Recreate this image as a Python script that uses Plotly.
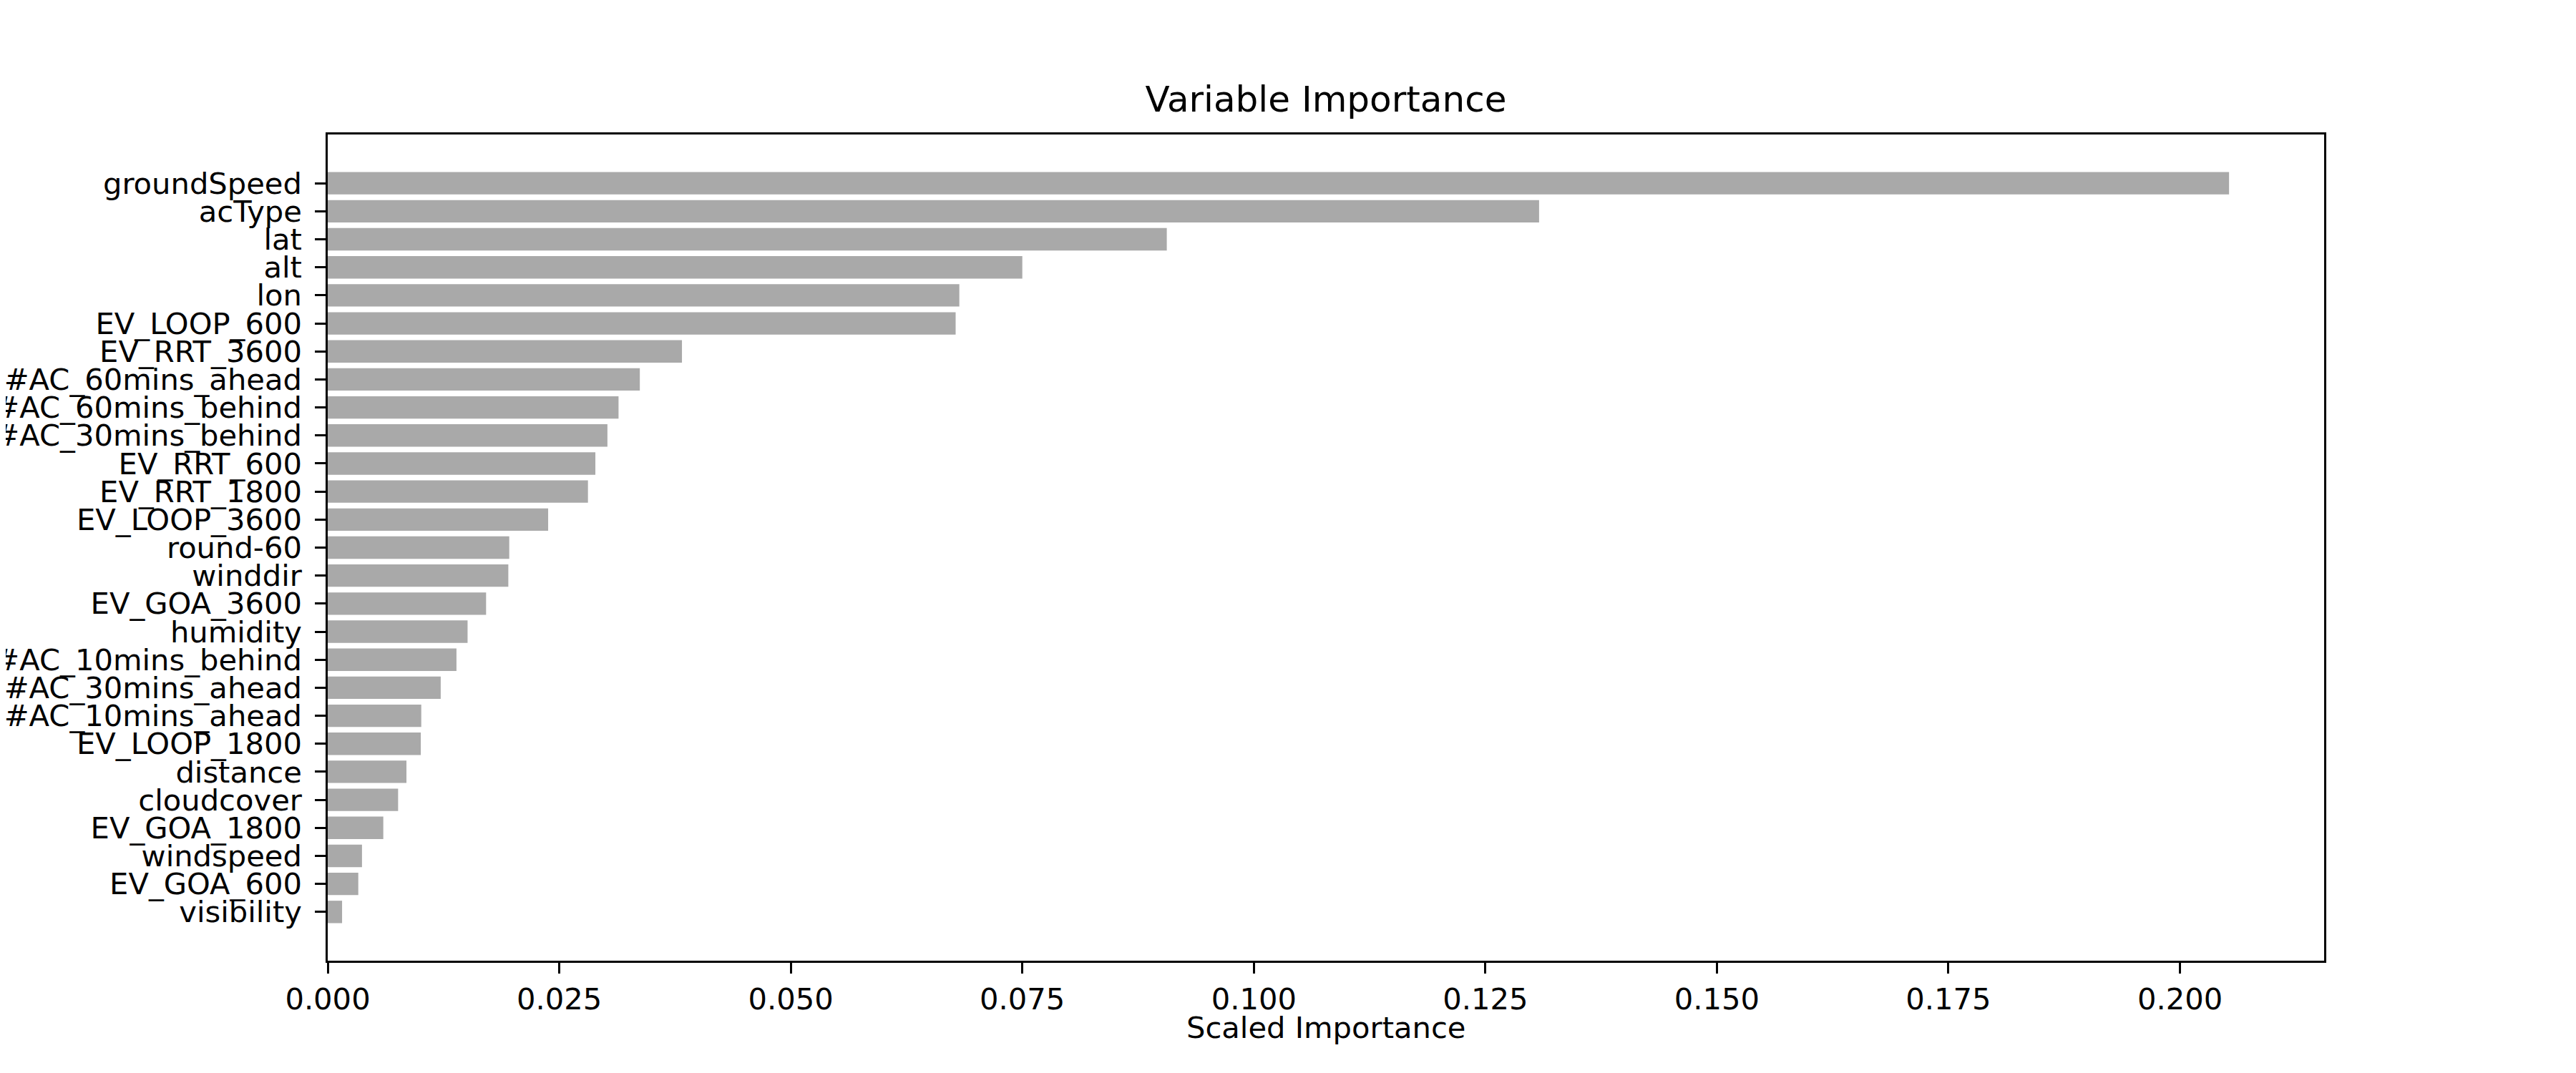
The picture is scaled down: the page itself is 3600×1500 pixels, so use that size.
import plotly.graph_objects as go

# variable importance, top to bottom as drawn
features = ["groundSpeed", "acType", "lat", "alt", "lon", "EV_LOOP_600", "EV_RRT_3600",
            "#AC_60mins_ahead", "#AC_60mins_behind", "#AC_30mins_behind", "EV_RRT_600",
            "EV_RRT_1800", "EV_LOOP_3600", "round-60", "winddir", "EV_GOA_3600", "humidity",
            "#AC_10mins_behind", "#AC_30mins_ahead", "#AC_10mins_ahead", "EV_LOOP_1800",
            "distance", "cloudcover", "EV_GOA_1800", "windspeed", "EV_GOA_600", "visibility"]
importance = [0.2053, 0.1308, 0.0906, 0.0750, 0.0682, 0.0678, 0.03825,
              0.0337, 0.0314, 0.0302, 0.0289,
              0.0281, 0.0238, 0.0196, 0.0195, 0.0171, 0.0151,
              0.0139, 0.0122, 0.0101, 0.01005,
              0.0085, 0.0076, 0.0060, 0.0037, 0.0033, 0.00155]
xticks = [0.0, 0.025, 0.05, 0.075, 0.1, 0.125, 0.15, 0.175, 0.2]

n = len(features)
pad = 0.05 * (n - 1 + 0.8)
xmax = max(importance) * 1.05

fig = go.Figure(go.Bar(
    x=importance, y=features, orientation="h",
    marker=dict(color="#a9a9a9", line=dict(width=0)),
))

axis_common = dict(showgrid=False, zeroline=False, showline=True, mirror=True,
                   linecolor="black", linewidth=3.3, ticks="outside", ticklen=14.6,
                   tickwidth=3.3, tickcolor="black", automargin=False,
                   tickfont=dict(family="DejaVu Sans", size=41.67, color="black"))

fig.update_layout(
    width=3600, height=1500,
    margin=dict(l=450, r=360, t=180, b=165),
    plot_bgcolor="white", paper_bgcolor="white",
    bargap=0.2, showlegend=False,
    font=dict(family="DejaVu Sans", color="black"),
    title=dict(text="Variable Importance", x=0.5125, xanchor="center",
               yref="paper", y=1, yanchor="bottom", pad=dict(b=32), automargin=False,
               font=dict(family="DejaVu Sans", size=50, color="black")),
    xaxis=dict(range=[0, xmax], tickvals=xticks, tickformat=".3f", **axis_common),
    yaxis=dict(type="category", range=[n - 1 + 0.4 + pad, -0.4 - pad],
               tickmode="array", tickvals=features, ticktext=features,
               ticklabelstandoff=10, **axis_common),
    annotations=[dict(text="Scaled Importance", xref="paper", yref="paper",
                      x=0.5, y=0, xanchor="center", yanchor="top", yshift=-67,
                      showarrow=False,
                      font=dict(family="DejaVu Sans", size=41.67, color="black"))],
)

fig.write_html("out.html")
